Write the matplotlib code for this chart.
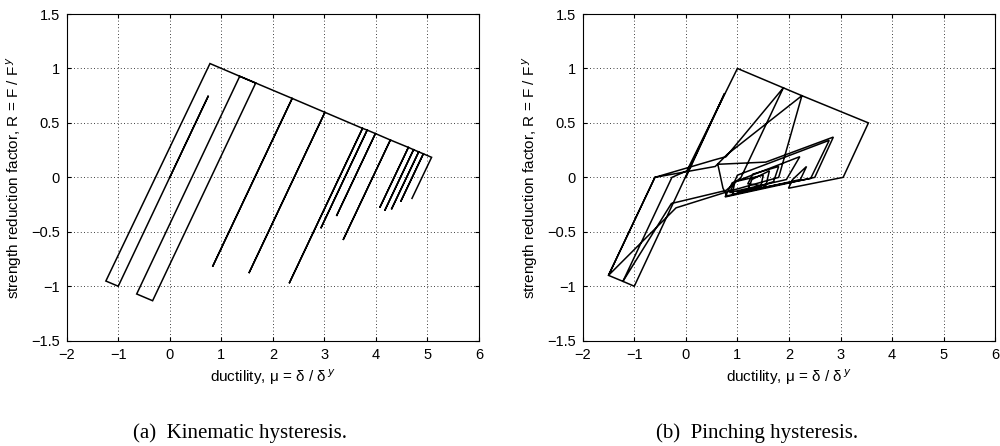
import matplotlib
matplotlib.use("Agg")
import matplotlib.pyplot as plt

plt.rcParams['font.family'] = ['Liberation Sans', 'DejaVu Sans']
plt.rcParams['axes.unicode_minus'] = True

# ---------------- data ----------------
x_ticks = [-2, -1, 0, 1, 2, 3, 4, 5, 6]
y_ticks = [-1.5, -1, -0.5, 0, 0.5, 1, 1.5]
y_tick_labels = ["\u22121.5", "\u22121", "\u22120.5", "0", "0.5", "1", "1.5"]
x_tick_labels = ["\u22122", "\u22121", "0", "1", "2", "3", "4", "5", "6"]

# (a) kinematic hysteresis path: ductility mu, strength reduction factor R
kin_mu = [0.00, 0.75, -1.00, -1.24, 0.78, 1.667, -0.333, -0.642, 1.357, 2.375, 0.83,
          2.375, 3.01, 1.535, 3.01, 3.74, 2.317, 3.74, 3.83, 2.93, 3.83, 3.99, 3.234,
          3.99, 4.28, 3.363, 4.28, 4.63, 4.074, 4.63, 4.73, 4.17, 4.73, 4.83, 4.30,
          4.83, 4.92, 4.48, 4.92, 5.08, 4.70]
kin_R = [0.00, 0.75, -1.00, -0.952, 1.045, 0.866, -1.133, -1.071, 0.928, 0.725, -0.82,
         0.725, 0.597, -0.88, 0.597, 0.45, -0.973, 0.45, 0.434, -0.468, 0.434, 0.402, -0.355,
         0.402, 0.343, -0.575, 0.343, 0.275, -0.278, 0.275, 0.254, -0.306, 0.254, 0.234, -0.294,
         0.234, 0.216, -0.223, 0.216, 0.184, -0.193]

# (b) pinching hysteresis path
pin_mu = [0.00, 0.75, -1.00, -1.22, -0.27, 0.02, 1.00, 1.89, 1.07, 0.78, -0.28, -1.22,
          -1.50, -0.60, 0.55, 0.78, 1.89, 2.25, 1.80, 0.82, -0.19, -1.50, -0.60, 0.57,
          0.80, 2.25, 3.54, 3.05, 1.99, 2.07, 2.34, 2.22, 0.80, 0.72, 0.62, 1.55, 2.86,
          2.50, 0.76, 0.90, 2.21, 1.95, 0.85, 1.00, 2.78, 2.42, 1.20, 1.28, 1.62, 1.55,
          1.20, 1.30, 1.80, 1.70, 0.90, 0.95, 1.50, 1.45, 1.00]
pin_R = [0.00, 0.77, -1.00, -0.955, 0.00, 0.06, 1.00, 0.822, 0.00, -0.12, -0.24, -0.955,
         -0.90, 0.00, 0.16, 0.19, 0.822, 0.75, 0.00, -0.13, -0.28, -0.90, 0.00, 0.10,
         0.21, 0.75, 0.50, 0.00, -0.10, -0.02, 0.10, -0.02, -0.17, -0.10, 0.12, 0.14, 0.37,
         0.00, -0.18, -0.05, 0.19, -0.02, -0.14, 0.02, 0.34, -0.01, -0.12, -0.02, 0.06, -0.08,
         -0.06, 0.03, 0.10, -0.04, -0.16, -0.04, 0.02, -0.09, -0.13]

panels = [
    (kin_mu, kin_R, "(a)  Kinematic hysteresis."),
    (pin_mu, pin_R, "(b)  Pinching hysteresis."),
]

fig = plt.figure(figsize=(10.0, 4.46), dpi=100)
axes_rects = [[0.0667, 0.2361, 0.4123, 0.7325], [0.5827, 0.2361, 0.4126, 0.7325]]
caption_x = [0.240, 0.757]

for (mu, R, cap), rect, cx in zip(panels, axes_rects, caption_x):
    ax = fig.add_axes(rect)
    ax.plot(mu, R, color="black", linewidth=1.1, solid_joinstyle="miter")
    ax.set_xlim(-2, 6)
    ax.set_ylim(-1.5, 1.5)
    ax.set_xticks(x_ticks)
    ax.set_xticklabels(x_tick_labels)
    ax.set_yticks(y_ticks)
    ax.set_yticklabels(y_tick_labels)
    ax.grid(True, color="black", linestyle=(0, (1, 3)), linewidth=0.6)
    ax.tick_params(direction="in", length=3, top=True, right=True, labelsize=10.5, pad=5)
    for s in ax.spines.values():
        s.set_linewidth(0.8)
    ax.set_xlabel("ductility, \u03bc = \u03b4 / \u03b4$^{\\,y}$", fontsize=11, labelpad=4)
    ax.set_ylabel("strength reduction factor, R = F / F$^{\\,y}$", fontsize=11, labelpad=5)
    fig.text(cx, 0.018, cap, ha="center", va="baseline", fontsize=15,
             family=["Liberation Serif", "DejaVu Serif"])

fig.savefig("out.png", dpi=100)
